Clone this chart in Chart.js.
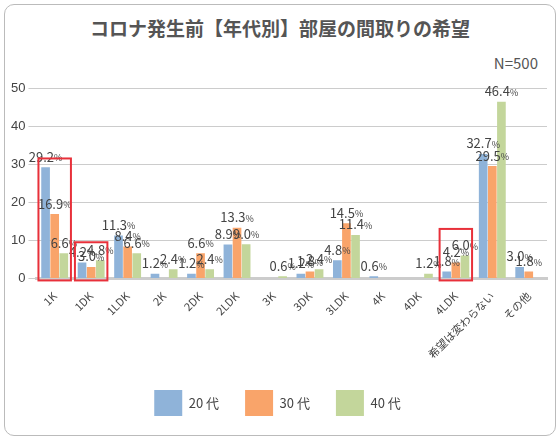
<!DOCTYPE html>
<html><head><meta charset="utf-8">
<script src="https://cdn.jsdelivr.net/npm/chart.js@4/dist/chart.umd.min.js"></script>
<style>
body{margin:0;background:#fff;font-family:"Noto Sans CJK JP",sans-serif;}
#wrap{position:absolute;left:4px;top:4px;width:550px;height:430px;border:1px solid #bbb;border-radius:10px;}
#title{position:absolute;left:0;width:560px;top:14px;text-align:center;font-size:19px;font-weight:bold;color:#555;}
#n{position:absolute;right:22px;top:52px;font-size:15px;color:#555;}
#c{position:absolute;left:8px;top:74px;}
</style></head><body>
<div id="wrap"></div>
<div id="title">コロナ発生前【年代別】部屋の間取りの希望</div>
<div id="n">N=500</div>
<canvas id="c" width="545" height="360"></canvas>
<script>
const categories=["1K","1DK","1LDK","2K","2DK","2LDK","3K","3DK","3LDK","4K","4DK","4LDK","希望は変わらない","その他"];
const s20=[29.2,4.2,11.3,1.2,1.2,8.9,0,1.2,4.8,0.6,0,1.8,32.7,3.0];
const s30=[16.9,3.0,8.4,0,6.6,13.3,0,1.8,14.5,0,0,4.2,29.5,1.8];
const s40=[6.6,4.8,6.6,2.4,2.4,9.0,0.6,2.4,11.4,0,1.2,6.0,46.4,0];
const yTicks=[0,10,20,30,40,50];
const highlight=[[0,31.5],[1,9.5],[11,13]];
const labels={id:'lbl',afterDatasetsDraw(ch){const c=ch.ctx;c.save();
 ch.data.datasets.forEach((ds,di)=>{ch.getDatasetMeta(di).data.forEach((b,i)=>{const v=ds.data[i];if(!v)return;
  const t=v.toFixed(1);c.font='13px "Noto Sans CJK JP"';const w=c.measureText(t).width;c.font='9px "Noto Sans CJK JP"';const w2=c.measureText('%').width;
  const x=b.x-(w+w2)/2,y=b.y-4;c.fillStyle='#444';c.font='13px "Noto Sans CJK JP"';c.textBaseline='bottom';c.fillText(t,x,y);c.font='9px "Noto Sans CJK JP"';c.fillText('%',x+w,y-1);});});
 const xs=ch.scales.x,ys=ch.scales.y;c.strokeStyle='#e8303a';c.lineWidth=2;
 highlight.forEach(([i,top])=>{const w=(xs.getPixelForValue(1)-xs.getPixelForValue(0));const cx=xs.getPixelForValue(i);c.strokeRect(cx-w/2+2,ys.getPixelForValue(top),w-4,ys.getPixelForValue(0)-ys.getPixelForValue(top)+2);});
 c.restore();}};
new Chart(document.getElementById('c'),{type:'bar',
data:{labels:categories,datasets:[
{label:'20 代',data:s20,backgroundColor:'#8fb3d9'},
{label:'30 代',data:s30,backgroundColor:'#f9a46a'},
{label:'40 代',data:s40,backgroundColor:'#c3d69b'}]},
options:{responsive:false,animation:false,
datasets:{bar:{categoryPercentage:0.75,barPercentage:0.95}},
layout:{padding:{top:14,right:6,bottom:8}},
plugins:{legend:{position:'bottom',labels:{boxWidth:28,boxHeight:26,padding:26,color:'#444',font:{size:13,family:'"Noto Sans CJK JP"'}}},tooltip:{enabled:false}},
scales:{x:{grid:{display:false},border:{color:'#ccc',width:3},ticks:{maxRotation:45,minRotation:45,color:'#444',font:{size:11,family:'"Noto Sans CJK JP"'}}},
y:{min:0,max:50,afterBuildTicks(a){a.ticks=yTicks.map(v=>({value:v}));},border:{display:false},grid:{color:'#ccc',borderDash:[2,3]},ticks:{color:'#444',font:{size:13}}}}},
plugins:[labels]});
</script></body></html>
